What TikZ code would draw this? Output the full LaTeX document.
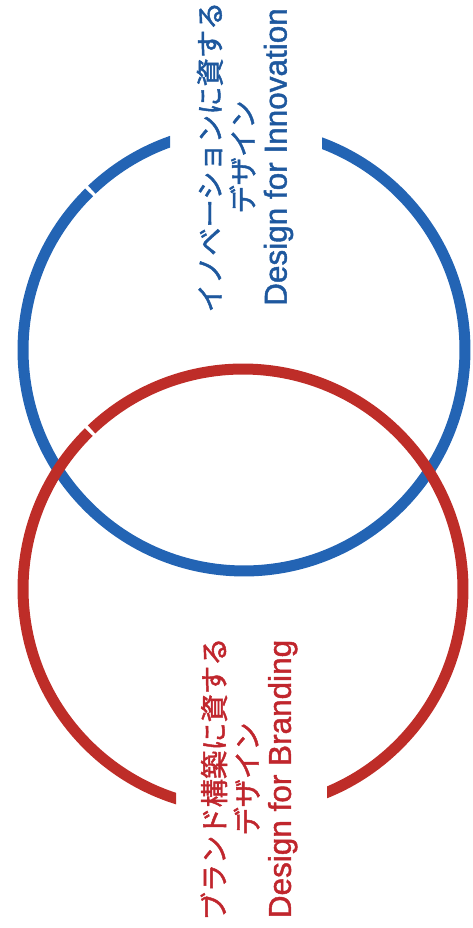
\documentclass[tikz,border=0pt]{standalone}
\usepackage{fontspec}
\setmainfont{Liberation Sans}
\newfontfamily\jpfont[FakeBold=1.6]{Noto Sans CJK JP}
\newfontfamily\enfont[FakeBold=1.4]{Liberation Sans}
\usepackage{tikz}

\definecolor{innovblue}{RGB}{35,100,180}
\definecolor{innovtext}{RGB}{30,88,158}
\definecolor{brandred}{RGB}{190,45,40}
\definecolor{brandtext}{RGB}{192,38,45}

\newcommand{\eng}{\enfont\fontsize{31.5}{33}\selectfont}

\begin{document}
\begin{tikzpicture}[
    x=1pt, y=1pt,
    ring/.style={line width=11pt},
    title/.style={rotate=90, align=center, inner sep=0pt,
                  font=\jpfont\fontsize{28.3}{33}\selectfont}
]
\useasboundingbox (0,0) rectangle (473,928);

% innovation circle, open at the top
\begin{scope}
  \clip (0,0) rectangle (170,928) (322,0) rectangle (473,928) (0,0) rectangle (473,728);
  \draw[ring, innovblue] (244,578) ++(134.5:221) arc[start angle=134.5, end angle=493.5, radius=221];
\end{scope}

% branding circle, open at the bottom
\begin{scope}
  \clip (0,0) rectangle (176,928) (327,0) rectangle (473,928) (0,228) rectangle (473,928);
  \draw[ring, brandred] (243,339) ++(134.5:220) arc[start angle=134.5, end angle=493.5, radius=220];
\end{scope}

\node[title, text=innovtext] (innov) at (245,771) {イノベーションに資する\\デザイン\\\eng Design for Innovation};
\node[title, text=brandtext] (brand) at (249,149) {ブランド構築に資する\\デザイン\\\eng Design for Branding};
\end{tikzpicture}
\end{document}
